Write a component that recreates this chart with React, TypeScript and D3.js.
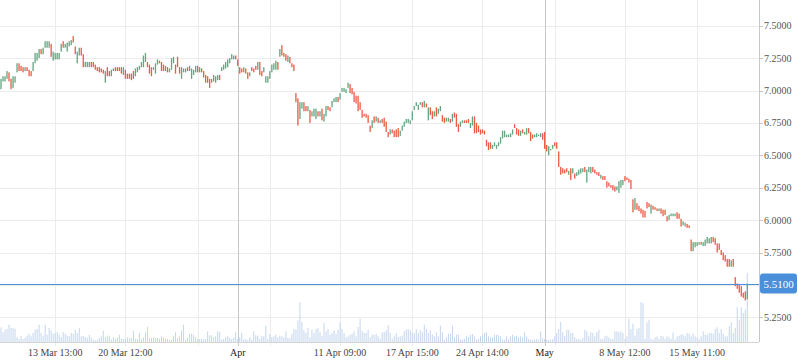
import React, { useRef, useEffect } from 'react';
import * as d3 from 'd3';

// hourly bars
const opens = [
  7.01, 7.07, 7.07, 7.09, 7.14, 7.09, 7.02, 7.06, 7.14, 7.21,
  7.19, 7.18, 7.15, 7.18, 7.16, 7.15, 7.15, 7.21, 7.23, 7.25,
  7.32, 7.28, 7.33, 7.33, 7.33, 7.36, 7.23, 7.24, 7.24, 7.24,
  7.30, 7.38, 7.33, 7.30, 7.34, 7.35, 7.42, 7.34, 7.21, 7.27,
  7.33, 7.28, 7.18, 7.18, 7.18, 7.22, 7.22, 7.20, 7.18, 7.18,
  7.17, 7.16, 7.06, 7.18, 7.15, 7.11, 7.15, 7.18, 7.18, 7.18,
  7.18, 7.12, 7.16, 7.13, 7.13, 7.13, 7.15, 7.11, 7.14, 7.16,
  7.18, 7.18, 7.22, 7.22, 7.20, 7.18, 7.16, 7.13, 7.20, 7.23,
  7.22, 7.20, 7.15, 7.18, 7.14, 7.16, 7.21, 7.20, 7.26, 7.18,
  7.09, 7.14, 7.14, 7.18, 7.15, 7.09, 7.12, 7.14, 7.19, 7.14,
  7.17, 7.15, 7.12, 7.11, 7.09, 7.06, 7.07, 7.06, 7.08, 7.12,
  7.15, 7.16, 7.17, 7.18, 7.21, 7.24, 7.24, 7.27, 7.24, 7.18,
  7.17, 7.14, 7.17, 7.14, 7.11, 7.18, 7.17, 7.19, 7.16, 7.22,
  7.15, 7.14, 7.06, 7.06, 7.09, 7.14, 7.16, 7.16, 7.22, 7.26,
  7.35, 7.29, 7.28, 7.22, 7.26, 7.21, 7.20, 6.98, 6.94, 6.78,
  6.86, 6.91, 6.88, 6.84, 6.85, 6.80, 6.80, 6.78, 6.84, 6.80,
  6.86, 6.76, 6.80, 6.88, 6.87, 6.87, 6.91, 6.91, 6.95, 6.93,
  6.99, 6.99, 6.98, 7.02, 7.05, 7.02, 6.99, 6.96, 6.96, 6.91,
  6.85, 6.82, 6.82, 6.81, 6.73, 6.71, 6.80, 6.76, 6.79, 6.75,
  6.78, 6.79, 6.76, 6.68, 6.66, 6.70, 6.69, 6.70, 6.71, 6.65,
  6.69, 6.72, 6.75, 6.75, 6.74, 6.77, 6.85, 6.88, 6.85, 6.89,
  6.91, 6.87, 6.90, 6.77, 6.87, 6.84, 6.80, 6.87, 6.82, 6.84,
  6.81, 6.79, 6.76, 6.76, 6.78, 6.76, 6.83, 6.82, 6.74, 6.72,
  6.75, 6.77, 6.77, 6.78, 6.71, 6.73, 6.80, 6.75, 6.73, 6.70,
  6.70, 6.69, 6.62, 6.60, 6.60, 6.55, 6.57, 6.55, 6.57, 6.59,
  6.63, 6.64, 6.64, 6.64, 6.64, 6.66, 6.74, 6.71, 6.70, 6.65,
  6.70, 6.66, 6.66, 6.71, 6.68, 6.66, 6.64, 6.64, 6.65, 6.64,
  6.67, 6.68, 6.58, 6.50, 6.54, 6.55, 6.60, 6.60, 6.53, 6.41,
  6.40, 6.39, 6.40, 6.35, 6.40, 6.36, 6.36, 6.34, 6.35, 6.36,
  6.37, 6.41, 6.29, 6.37, 6.36, 6.41, 6.39, 6.37, 6.37, 6.32,
  6.34, 6.34, 6.30, 6.29, 6.27, 6.27, 6.26, 6.23, 6.21, 6.25,
  6.27, 6.34, 6.33, 6.32, 6.31, 6.16, 6.08, 6.13, 6.11, 6.09,
  6.08, 6.07, 6.14, 6.13, 6.05, 6.11, 6.10, 6.09, 6.07, 6.09,
  6.08, 6.08, 6.03, 6.00, 6.03, 6.03, 6.03, 6.06, 6.05, 6.01,
  5.96, 5.95, 5.97, 5.96, 5.85, 5.76, 5.79, 5.80, 5.81, 5.83,
  5.80, 5.80, 5.82, 5.82, 5.82, 5.87, 5.86, 5.82, 5.82, 5.77,
  5.75, 5.73, 5.70, 5.70, 5.64, 5.70, 5.56, 5.51, 5.50, 5.49,
  5.44, 5.45, 5.39,
];

const closes = [
  7.09, 7.11, 7.11, 7.15, 7.07, 7.01, 7.11, 7.11, 7.21, 7.15,
  7.15, 7.14, 7.18, 7.15, 7.11, 7.11, 7.22, 7.29, 7.29, 7.32,
  7.28, 7.33, 7.38, 7.38, 7.38, 7.26, 7.30, 7.29, 7.29, 7.29,
  7.36, 7.33, 7.36, 7.37, 7.38, 7.39, 7.37, 7.28, 7.30, 7.33,
  7.27, 7.18, 7.22, 7.22, 7.22, 7.18, 7.18, 7.16, 7.15, 7.14,
  7.14, 7.13, 7.15, 7.11, 7.11, 7.16, 7.17, 7.15, 7.15, 7.15,
  7.13, 7.18, 7.09, 7.09, 7.09, 7.08, 7.09, 7.17, 7.18, 7.19,
  7.22, 7.27, 7.29, 7.18, 7.13, 7.11, 7.18, 7.21, 7.24, 7.21,
  7.15, 7.15, 7.19, 7.14, 7.17, 7.25, 7.26, 7.13, 7.18, 7.13,
  7.18, 7.17, 7.17, 7.15, 7.19, 7.17, 7.16, 7.19, 7.14, 7.18,
  7.14, 7.10, 7.06, 7.06, 7.02, 7.09, 7.12, 7.11, 7.12, 7.08,
  7.18, 7.20, 7.22, 7.24, 7.25, 7.28, 7.27, 7.24, 7.19, 7.13,
  7.14, 7.18, 7.13, 7.09, 7.14, 7.15, 7.14, 7.16, 7.22, 7.12,
  7.11, 7.18, 7.11, 7.11, 7.15, 7.20, 7.21, 7.23, 7.16, 7.32,
  7.27, 7.26, 7.23, 7.27, 7.21, 7.18, 7.15, 6.91, 6.73, 6.91,
  6.91, 6.84, 6.84, 6.88, 6.75, 6.84, 6.86, 6.86, 6.80, 6.84,
  6.77, 6.82, 6.88, 6.85, 6.84, 6.92, 6.94, 6.95, 6.91, 6.98,
  7.02, 7.02, 7.01, 7.06, 6.98, 6.97, 6.91, 6.90, 6.84, 6.85,
  6.79, 6.80, 6.79, 6.75, 6.68, 6.77, 6.75, 6.80, 6.75, 6.77,
  6.75, 6.72, 6.68, 6.64, 6.70, 6.67, 6.64, 6.64, 6.64, 6.69,
  6.73, 6.76, 6.78, 6.78, 6.77, 6.84, 6.88, 6.91, 6.89, 6.91,
  6.87, 6.92, 6.87, 6.87, 6.81, 6.78, 6.84, 6.80, 6.86, 6.88,
  6.76, 6.75, 6.79, 6.79, 6.75, 6.82, 6.79, 6.72, 6.68, 6.76,
  6.77, 6.75, 6.75, 6.75, 6.75, 6.80, 6.67, 6.67, 6.68, 6.66,
  6.67, 6.66, 6.57, 6.54, 6.55, 6.58, 6.60, 6.58, 6.60, 6.64,
  6.69, 6.69, 6.66, 6.66, 6.67, 6.70, 6.71, 6.66, 6.65, 6.69,
  6.67, 6.68, 6.71, 6.67, 6.61, 6.63, 6.66, 6.67, 6.66, 6.67,
  6.62, 6.55, 6.53, 6.57, 6.55, 6.58, 6.57, 6.55, 6.41, 6.35,
  6.36, 6.36, 6.37, 6.38, 6.31, 6.40, 6.32, 6.37, 6.39, 6.40,
  6.40, 6.37, 6.39, 6.41, 6.41, 6.37, 6.36, 6.35, 6.34, 6.35,
  6.31, 6.31, 6.25, 6.26, 6.25, 6.23, 6.22, 6.26, 6.30, 6.31,
  6.31, 6.30, 6.31, 6.29, 6.24, 6.06, 6.17, 6.08, 6.07, 6.05,
  6.02, 6.02, 6.09, 6.10, 6.12, 6.08, 6.08, 6.07, 6.09, 6.05,
  6.03, 6.04, 5.99, 6.04, 6.05, 6.05, 6.05, 6.01, 6.01, 5.95,
  5.99, 5.98, 5.94, 5.94, 5.76, 5.83, 5.83, 5.83, 5.83, 5.81,
  5.83, 5.85, 5.87, 5.86, 5.87, 5.83, 5.81, 5.75, 5.77, 5.73,
  5.69, 5.68, 5.64, 5.64, 5.69, 5.64, 5.49, 5.47, 5.44, 5.41,
  5.40, 5.38, 5.51,
];

const volumes = [
  147, 97, 123, 130, 173, 140, 140, 133, 50, 30,
  63, 30, 40, 63, 83, 57, 90, 123, 130, 173,
  90, 57, 173, 73, 140, 113, 83, 90, 97, 73,
  47, 97, 83, 63, 57, 90, 80, 123, 90, 140,
  57, 63, 50, 40, 73, 47, 23, 17, 23, 40,
  57, 113, 47, 63, 63, 23, 50, 30, 47, 73,
  30, 30, 30, 47, 40, 40, 113, 30, 30, 90,
  30, 47, 97, 150, 40, 40, 47, 40, 40, 30,
  57, 47, 30, 30, 23, 23, 57, 97, 40, 57,
  117, 173, 23, 40, 83, 83, 73, 47, 30, 30,
  30, 30, 30, 107, 67, 67, 47, 57, 107, 100,
  23, 30, 47, 57, 40, 30, 47, 100, 30, 47,
  90, 23, 30, 17, 47, 23, 107, 67, 63, 30,
  57, 57, 163, 30, 80, 50, 57, 73, 47, 63,
  57, 47, 107, 40, 40, 80, 130, 123, 217, 397,
  200, 117, 90, 140, 47, 123, 90, 130, 140, 97,
  57, 190, 107, 130, 73, 90, 117, 83, 123, 197,
  130, 90, 47, 57, 73, 83, 107, 57, 150, 233,
  113, 90, 90, 123, 47, 73, 73, 80, 57, 30,
  97, 100, 117, 167, 90, 30, 57, 90, 50,
  57, 63, 107, 123, 130, 117, 97, 90, 130, 90,
  117, 97, 173, 130, 90, 117, 73, 57, 97, 57,
  163, 97, 23, 47, 83, 83, 163, 47, 73, 73,
  23, 23, 30, 57, 50, 73, 80, 57, 23, 30,
  57, 73, 90, 97, 57, 47, 47, 73, 73, 67,
  57, 23, 23, 57, 30, 57, 73, 57, 63, 47,
  57, 47, 97, 57, 30, 23, 23, 23, 30, 23,
  107, 40, 30, 23, 23, 23, 30, 57, 90, 130,
  200, 97, 57, 123, 123, 90, 90, 47, 30, 30,
  23, 40, 123, 107, 57, 97, 90, 57, 97, 123,
  30, 30, 57, 63, 47, 30, 30, 107, 107, 100,
  107, 90, 30, 57, 233, 130, 183, 63, 130, 140,
  400, 390, 30, 197, 223, 30, 23, 47, 57, 30,
  63, 57, 30, 57, 47, 30, 97, 23, 57, 63,
  73, 73, 57, 90, 83, 57, 83, 57, 47, 30,
  57, 107, 73, 73, 90, 90, 83, 130, 147, 90,
  130, 80, 57, 57, 157, 197, 90, 140, 347, 217,
  347, 290, 323, 690,
];

// bar index of each weekly grid line, with its label ('' = label not shown)
const weekTicks = [27, 62, 98, 134, 169, 205, 240, 276, 311, 347];
const weekLabels = ['13 Mar 13:00', '20 Mar 12:00', '', '', '11 Apr 09:00', '17 Apr 15:00', '24 Apr 14:00', '', '8 May 12:00', '15 May 11:00'];
const monthTicks = [118, 271];
const monthLabels = ['Apr', 'May'];
const priceTicks = [5.25, 5.5, 5.75, 6.0, 6.25, 6.5, 6.75, 7.0, 7.25, 7.5];
const lastPrice = 5.51;

const App = () => {
  const svgRef = useRef<SVGSVGElement>(null);

  useEffect(() => {
    document.body.style.margin = '0';
    const svg = d3.select(svgRef.current);
    svg.selectAll('*').remove();

    const axisX = 759;
    const axisY = 342;
    const font = '"Liberation Serif", "Times New Roman", serif';
    const n = closes.length;

    const x = d3.scaleLinear().domain([0, n - 1]).range([1, 747.3]);
    const y = d3.scaleLinear().domain([5.25, 7.5]).range([317.3, 25.7]);
    const yVol = d3.scaleLinear().domain([0, 700]).range([axisY, axisY - 70]);
    const px = (v: number) => Math.round(v) + 0.5;
    const yp = y(lastPrice);

    // horizontal grid
    svg.append('g')
      .selectAll('line')
      .data(priceTicks)
      .enter()
      .append('line')
      .attr('x1', 0)
      .attr('x2', axisX)
      .attr('y1', d => px(y(d)))
      .attr('y2', d => px(y(d)))
      .attr('stroke', '#ececec');

    // vertical grid (weeks)
    svg.append('g')
      .selectAll('line')
      .data(weekTicks)
      .enter()
      .append('line')
      .attr('x1', d => px(x(d)))
      .attr('x2', d => px(x(d)))
      .attr('y1', 0)
      .attr('y2', axisY + 4)
      .attr('stroke', '#ececec');

    // month separators
    svg.append('g')
      .selectAll('line')
      .data(monthTicks)
      .enter()
      .append('line')
      .attr('x1', d => px(x(d)))
      .attr('x2', d => px(x(d)))
      .attr('y1', 0)
      .attr('y2', axisY + 4)
      .attr('stroke', '#c8c8c8');

    // volume
    svg.append('g')
      .selectAll('rect')
      .data(volumes)
      .enter()
      .append('rect')
      .attr('x', (d, i) => x(i) - 0.5)
      .attr('width', 1)
      .attr('y', d => yVol(d))
      .attr('height', d => axisY - yVol(d))
      .attr('fill', '#c4d6ee');

    // price bars
    svg.append('g')
      .selectAll('rect')
      .data(closes)
      .enter()
      .append('rect')
      .attr('x', (d, i) => x(i) - 0.65)
      .attr('width', 1.3)
      .attr('y', (d, i) => y(Math.max(d, opens[i])))
      .attr('height', (d, i) => Math.max(Math.abs(y(d) - y(opens[i])), 1.5))
      .attr('fill', (d, i) => (d >= opens[i] ? '#62a580' : '#ee5944'));

    // axes
    svg.append('line')
      .attr('x1', px(axisX)).attr('x2', px(axisX))
      .attr('y1', 0).attr('y2', axisY)
      .attr('stroke', '#c8c8c8');
    svg.append('line')
      .attr('x1', 0).attr('x2', axisX)
      .attr('y1', px(axisY)).attr('y2', px(axisY))
      .attr('stroke', '#d4d4d4');

    const yAxis = svg.append('g');
    yAxis.selectAll('line')
      .data(priceTicks)
      .enter()
      .append('line')
      .attr('x1', axisX).attr('x2', axisX + 4)
      .attr('y1', d => px(y(d))).attr('y2', d => px(y(d)))
      .attr('stroke', '#c8c8c8');
    // the tick label under the last-price marker is covered in the original
    yAxis.selectAll('text')
      .data(priceTicks.filter(d => Math.abs(y(d) - yp) > 12))
      .enter()
      .append('text')
      .attr('x', axisX + 5)
      .attr('y', d => y(d) + 3.5)
      .attr('font-family', font)
      .attr('font-size', 10)
      .attr('fill', '#555')
      .text(d => d3.format('.4f')(d));

    const xAxis = svg.append('g');
    xAxis.selectAll('text.week')
      .data(weekTicks)
      .enter()
      .append('text')
      .attr('class', 'week')
      .attr('x', d => x(d))
      .attr('y', 356)
      .attr('text-anchor', 'middle')
      .attr('font-family', font)
      .attr('font-size', 10)
      .attr('fill', '#444')
      .text((d, i) => weekLabels[i]);
    xAxis.selectAll('text.month')
      .data(monthTicks)
      .enter()
      .append('text')
      .attr('class', 'month')
      .attr('x', d => x(d))
      .attr('y', 356)
      .attr('text-anchor', 'middle')
      .attr('font-family', font)
      .attr('font-size', 10)
      .attr('fill', '#222')
      .text((d, i) => monthLabels[i]);

    // last price marker
    svg.append('line')
      .attr('x1', 0).attr('x2', axisX)
      .attr('y1', px(yp)).attr('y2', px(yp))
      .attr('stroke', '#4a8fda');
    svg.append('rect')
      .attr('x', axisX + 1).attr('y', yp - 10)
      .attr('width', 37).attr('height', 20)
      .attr('rx', 3)
      .attr('fill', '#4a8fda');
    svg.append('text')
      .attr('x', axisX + 19.5)
      .attr('y', yp + 4)
      .attr('text-anchor', 'middle')
      .attr('font-family', font)
      .attr('font-size', 11)
      .attr('fill', '#fff')
      .text(d3.format('.4f')(lastPrice));
  }, []);

  return (
    <div>
      <svg ref={svgRef} width={798} height={363} style={{ display: 'block' }} />
    </div>
  );
};

export default App;
